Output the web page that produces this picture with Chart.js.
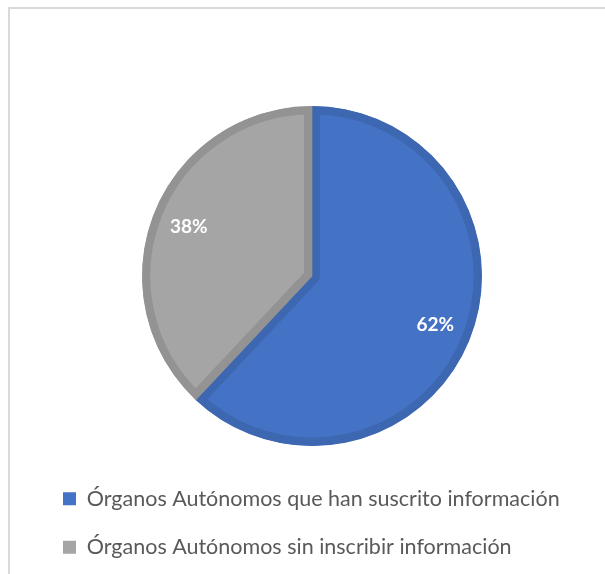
<!DOCTYPE html>
<html>
<head>
<meta charset="utf-8">
<script src="https://cdn.jsdelivr.net/npm/chart.js@4.4.0/dist/chart.umd.min.js"></script>
<style>
    body { margin: 0; background: #fff; overflow: hidden; }
    #marco { position: absolute; left: 8px; top: 7px; width: 640px; height: 620px; border: 2px solid #d9d9d9; box-sizing: border-box; }
    #wrap { position: absolute; left: 2px; top: 2px; width: 600px; height: 567px; }
</style>
</head>
<body>
<div id="marco"><div id="wrap"><canvas id="miGrafico"></canvas></div></div>
<script>
const etiquetas = ['Órganos Autónomos que han suscrito información', 'Órganos Autónomos sin inscribir información'];
const porcentajes = [62, 38];
const colores = ['#4472C4', '#A5A5A5'];
const bordes = ['#3E67B1', '#939393'];

// pinta el % dentro de cada rebanada
const etiquetasPie = {
    id: 'etiquetasPie',
    afterDatasetsDraw(chart) {
        const ctx = chart.ctx;
        const meta = chart.getDatasetMeta(0);
        ctx.save();
        ctx.fillStyle = '#ffffff';
        ctx.font = 'bold 19px Lato';
        ctx.textAlign = 'center';
        ctx.textBaseline = 'middle';
        meta.data.forEach((arc, i) => {
            const p = arc.getProps(['x', 'y', 'startAngle', 'endAngle', 'outerRadius']);
            const a = (p.startAngle + p.endAngle) / 2;
            const r = p.outerRadius * 0.78;
            ctx.fillText(porcentajes[i] + '%', p.x + Math.cos(a) * r, p.y + Math.sin(a) * r);
        });
        ctx.restore();
    }
};

$ = (s) => document.querySelector(s);
const grafico = new Chart($('#miGrafico'), {
    type: 'pie',
    data: {
        labels: etiquetas,
        datasets: [{
            data: porcentajes,
            backgroundColor: colores,
            borderColor: bordes,
            borderWidth: 8,
            borderAlign: 'inner',
            radius: 170
        }]
    },
    options: {
        responsive: true,
        maintainAspectRatio: false,
        animation: false,
        layout: { padding: { left: 24, right: 24, top: 80, bottom: 10 } },
        plugins: {
            tooltip: { enabled: false },
            legend: {
                position: 'bottom',
                align: 'start',
                labels: {
                    boxWidth: 13,
                    boxHeight: 13,
                    padding: 27,
                    color: '#595959',
                    font: { family: 'Lato', size: 21.5 },
                    generateLabels(chart) {
                        const items = Chart.overrides.pie.plugins.legend.labels.generateLabels(chart);
                        items.forEach(it => { it.lineWidth = 0; it.strokeStyle = it.fillStyle; });
                        return items;
                    }
                }
            }
        }
    },
    plugins: [etiquetasPie]
});
</script>
</body>
</html>
